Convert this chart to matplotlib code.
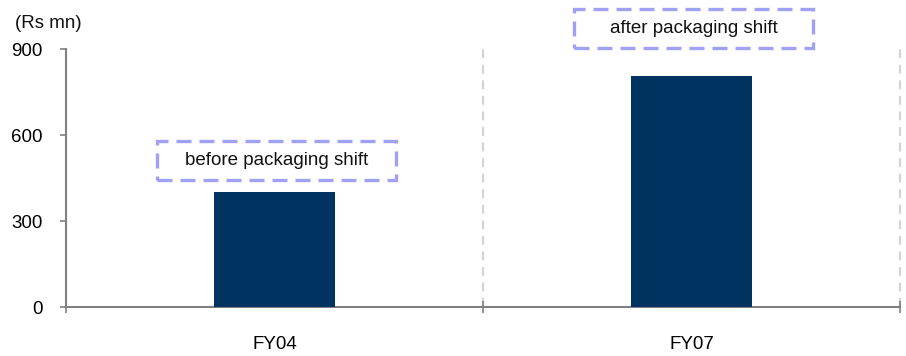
import matplotlib
matplotlib.use("Agg")
import matplotlib.pyplot as plt
from matplotlib.patches import Rectangle

categories = ["FY04", "FY07"]
values = [400, 805]
notes = ["before packaging shift", "after packaging shift"]
yticks = [0, 300, 600, 900]

plt.rcParams['font.family'] = ['Liberation Sans Narrow', 'Liberation Sans', 'DejaVu Sans']

fig = plt.figure(figsize=(9.06, 3.56), dpi=100)
ax = fig.add_axes([66/906, (356-307)/356, (900-66)/906, (307-49)/356])

x = list(range(len(categories)))
ax.bar(x, values, width=0.29, color="#00335F", zorder=3)
ax.set_xlim(-0.5, 1.5)
ax.set_ylim(0, 900)
ax.set_yticks(yticks)
ax.set_yticklabels([str(v) for v in yticks], fontsize=13.5)
ax.set_xticks([-0.5, 0.5, 1.5], minor=False)
ax.set_xticklabels([])
ax.set_xticks(x, minor=True)
ax.set_xticklabels(categories, minor=True, fontsize=13.5)
ax.tick_params(axis='x', which='minor', length=0, pad=21)
ax.tick_params(axis='x', which='major', length=8, direction='inout', color='#808080', width=1.2)
ax.tick_params(axis='y', length=4, direction='out', color='#808080', width=1.2, pad=13)

for s in ['top', 'right']:
    ax.spines[s].set_visible(False)
for s in ['left', 'bottom']:
    ax.spines[s].set_color('#808080')
    ax.spines[s].set_linewidth(1.5)

for xv in [0.5, 1.5]:
    ax.axvline(xv, color='#d4d4d4', linestyle=(0, (4, 3)), linewidth=1.6, zorder=1, clip_on=False)

box_w = 0.575
box_h = 136
offsets = [511, 970]
for xi, note, yc in zip(x, notes, offsets):
    r = Rectangle((xi - box_w/2 + 0.005, yc - box_h/2), box_w, box_h, fill=False,
                  edgecolor='#A0A0F5', linewidth=2.4, linestyle=(0, (4.5, 2.4)),
                  clip_on=False, zorder=4)
    ax.add_patch(r)
    ax.text(xi + 0.005, yc, note, ha='center', va='center', fontsize=13.5, color='#111111',
            clip_on=False, zorder=5)

fig.text(15/906, 1 - 23/356, "(Rs mn)", fontsize=13.5, ha='left', va='center', color='#111111')

fig.savefig("out.png", dpi=100)
